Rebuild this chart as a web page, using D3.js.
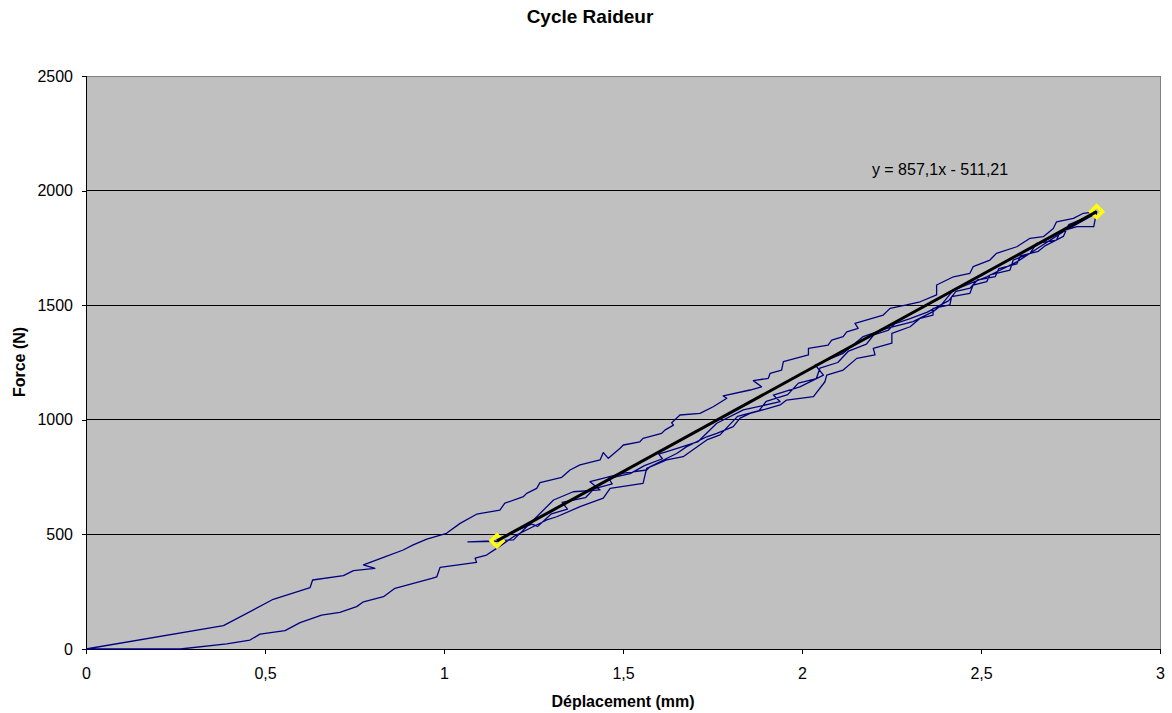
<!DOCTYPE html>
<html>
<head>
<meta charset="utf-8">
<script src="https://cdn.jsdelivr.net/npm/d3@7"></script>
<style>
  body { margin: 0; background: #fff; }
  svg { display: block; font-family: Arial, "Liberation Sans", sans-serif; }
  .axis path, .axis line { stroke: #000; }
  .axis text { font-size: 16px; fill: #000; font-family: Arial, "Liberation Sans", sans-serif; }
</style>
</head>
<body>
<div id="chart"></div>
<script>
// Chart data
var xTicks = [0, 0.5, 1, 1.5, 2, 2.5, 3]
var yTicks = [0, 500, 1000, 1500, 2000, 2500]

// loading branch, origin up to peak [displacement mm, force N]
var loading = [
  [0, 0], [0.384, 102], [0.523, 217], [0.626, 268], [0.633, 301], [0.719, 320],
  [0.747, 342], [0.807, 352], [0.775, 367], [0.831, 400], [0.886, 432], [0.914, 454],
  [0.952, 479], [1.007, 505], [1.045, 548], [1.091, 588], [1.156, 606], [1.170, 636],
  [1.222, 665], [1.231, 679], [1.259, 701], [1.268, 726], [1.329, 749], [1.352, 781],
  [1.380, 803], [1.436, 825], [1.445, 857], [1.459, 832], [1.492, 876], [1.501, 890],
  [1.547, 904], [1.556, 919], [1.608, 941], [1.617, 955], [1.641, 977], [1.636, 987],
  [1.659, 1021], [1.715, 1028], [1.752, 1057], [1.790, 1094], [1.780, 1104], [1.855, 1130],
  [1.887, 1144], [1.864, 1171], [1.906, 1181], [1.911, 1203], [1.943, 1217], [1.948, 1254],
  [2.018, 1283], [2.018, 1312], [2.073, 1326], [2.083, 1348], [2.115, 1363], [2.125, 1384],
  [2.157, 1399], [2.148, 1421], [2.227, 1457], [2.246, 1486], [2.292, 1501], [2.330, 1515],
  [2.376, 1545], [2.376, 1588], [2.423, 1624], [2.469, 1639], [2.478, 1668], [2.525, 1697],
  [2.543, 1726], [2.600, 1755], [2.637, 1792], [2.674, 1799], [2.702, 1835], [2.711, 1864],
  [2.758, 1879], [2.786, 1901], [2.823, 1908]
]

// first unloading down to the valley
var unload1 = [
  [2.823, 1908], [2.815, 1843], [2.768, 1843], [2.721, 1821], [2.711, 1784], [2.655, 1770],
  [2.637, 1726], [2.590, 1697], [2.581, 1653], [2.525, 1632], [2.516, 1603], [2.478, 1588],
  [2.469, 1552], [2.418, 1537], [2.413, 1501], [2.366, 1486], [2.366, 1457], [2.330, 1443],
  [2.302, 1406], [2.251, 1377], [2.251, 1334], [2.199, 1312], [2.204, 1283], [2.153, 1268],
  [2.115, 1217], [2.069, 1195], [2.064, 1166], [2.032, 1101], [1.957, 1086], [1.939, 1065],
  [1.906, 1050], [1.855, 1028], [1.827, 1007], [1.808, 970], [1.762, 941], [1.734, 926],
  [1.678, 883], [1.650, 853], [1.575, 795], [1.566, 781], [1.501, 767], [1.408, 730],
  [1.436, 694], [1.361, 686], [1.306, 650], [1.250, 563], [1.194, 476], [1.067, 467],
  [1.148, 470]
]

// reloading up to the peak
var reload = [
  [1.148, 470], [1.180, 500], [1.215, 525], [1.245, 545], [1.262, 535], [1.300, 590],
  [1.345, 610], [1.330, 640], [1.395, 660], [1.420, 700], [1.470, 720], [1.460, 745],
  [1.520, 765], [1.560, 800], [1.610, 830], [1.600, 850], [1.660, 880], [1.710, 905],
  [1.762, 985], [1.836, 1043], [1.939, 1079], [1.920, 1108], [1.994, 1144], [2.060, 1195],
  [2.037, 1239], [2.115, 1290], [2.171, 1363], [2.237, 1399], [2.310, 1428], [2.366, 1472],
  [2.385, 1494], [2.423, 1566], [2.516, 1624], [2.600, 1689], [2.665, 1755], [2.730, 1821],
  [2.815, 1895]
]

// final unloading back to zero force
var unload2 = [
  [2.815, 1895], [2.790, 1880], [2.745, 1852], [2.730, 1800], [2.680, 1760], [2.660, 1735],
  [2.610, 1715], [2.600, 1680], [2.550, 1660], [2.540, 1625], [2.490, 1610], [2.470, 1575],
  [2.430, 1560], [2.410, 1520], [2.350, 1470], [2.300, 1440], [2.260, 1420], [2.240, 1390],
  [2.200, 1370], [2.180, 1330], [2.130, 1300], [2.100, 1250], [2.050, 1225], [2.040, 1180],
  [1.990, 1160], [1.960, 1110], [1.900, 1080], [1.880, 1040], [1.820, 1015], [1.771, 934],
  [1.734, 912], [1.668, 839], [1.622, 825], [1.566, 788], [1.556, 723], [1.464, 701],
  [1.445, 658], [1.380, 621], [1.315, 577], [1.287, 563], [1.240, 527], [1.194, 490],
  [1.147, 439], [1.119, 410], [1.087, 396], [1.091, 378], [0.989, 356], [0.980, 315],
  [0.966, 308], [0.863, 265], [0.831, 228], [0.775, 206], [0.756, 185], [0.709, 160],
  [0.658, 148], [0.598, 115], [0.556, 80], [0.486, 65], [0.458, 39], [0.393, 22],
  [0.263, 0], [0, 0]
]

// cycle end points used for the stiffness line
var cyclePoints = [[1.148, 472], [2.823, 1908]]
var fitLabel = 'y = 857,1x - 511,21'

;(function () {
  'use strict'

  // Dimensions and stuff
  var w = 1172
  var h = 713
  var plotL = 86
  var plotT = 76
  var plotR = 1160
  var plotB = 649

  var fmt = function (d) { return String(d).replace('.', ',') }

  var x = d3.scaleLinear().domain([0, 3]).range([plotL, plotR])
  var y = d3.scaleLinear().domain([0, 2500]).range([plotB, plotT])

  var svg = d3.select('#chart').append('svg')
    .attr('width', w)
    .attr('height', h)

  // Plot area
  svg.append('rect')
    .attr('x', plotL + 0.5).attr('y', plotT + 0.5)
    .attr('width', plotR - plotL).attr('height', plotB - plotT)
    .attr('fill', '#c0c0c0')
    .attr('stroke', '#808080')

  // Gridlines
  svg.append('g')
    .selectAll('line')
    .data(yTicks.filter(function (d) { return d > 0 && d < 2500 }))
    .enter().append('line')
    .attr('x1', plotL).attr('x2', plotR)
    .attr('y1', function (d) { return y(d) })
    .attr('y2', function (d) { return y(d) })
    .attr('stroke', '#000')
    .attr('stroke-width', 1)
    .attr('shape-rendering', 'crispEdges')

  // Axes
  svg.append('g')
    .attr('class', 'axis')
    .attr('transform', 'translate(0,' + plotB + ')')
    .call(d3.axisBottom(x).tickValues(xTicks).tickFormat(fmt).tickSizeOuter(0).tickSize(5).tickPadding(14))

  svg.append('g')
    .attr('class', 'axis')
    .attr('transform', 'translate(' + plotL + ',0)')
    .call(d3.axisLeft(y).tickValues(yTicks).tickFormat(fmt).tickSizeOuter(0).tickSize(4).tickPadding(9))

  svg.selectAll('.axis').attr('font-size', null).attr('font-family', null)
  svg.selectAll('.axis path, .axis line').attr('shape-rendering', 'crispEdges')

  // Blue hysteresis curve
  var line = d3.line()
    .x(function (d) { return x(d[0]) })
    .y(function (d) { return y(d[1]) })

  var curve = loading.concat(unload1.slice(1), reload.slice(1), unload2.slice(1))

  svg.append('path')
    .datum(curve)
    .attr('d', line)
    .attr('fill', 'none')
    .attr('stroke', '#000080')
    .attr('stroke-width', 1.3)
    .attr('stroke-linejoin', 'round')

  // Yellow markers at the cycle ends
  svg.append('g')
    .selectAll('path')
    .data(cyclePoints)
    .enter().append('path')
    .attr('d', d3.symbol().type(d3.symbolDiamond2).size(90))
    .attr('transform', function (d) { return 'translate(' + x(d[0]) + ',' + y(d[1]) + ')' })
    .attr('fill', 'none')
    .attr('stroke', '#ffff00')
    .attr('stroke-width', 3.5)

  // Stiffness line on top
  svg.append('path')
    .datum(cyclePoints)
    .attr('d', line)
    .attr('fill', 'none')
    .attr('stroke', '#000')
    .attr('stroke-width', 3)

  svg.append('text')
    .attr('x', 940).attr('y', 175)
    .attr('text-anchor', 'middle')
    .attr('font-size', 16)
    .text(fitLabel)

  // Titles
  svg.append('text')
    .attr('x', 590).attr('y', 23)
    .attr('text-anchor', 'middle')
    .attr('font-size', 19)
    .attr('font-weight', 'bold')
    .text('Cycle Raideur')

  svg.append('text')
    .attr('x', 623).attr('y', 707)
    .attr('text-anchor', 'middle')
    .attr('font-size', 16)
    .attr('font-weight', 'bold')
    .text('Déplacement (mm)')

  svg.append('text')
    .attr('transform', 'translate(25,' + 362 + ') rotate(-90)')
    .attr('text-anchor', 'middle')
    .attr('font-size', 16)
    .attr('font-weight', 'bold')
    .text('Force (N)')
}())
</script>
</body>
</html>
